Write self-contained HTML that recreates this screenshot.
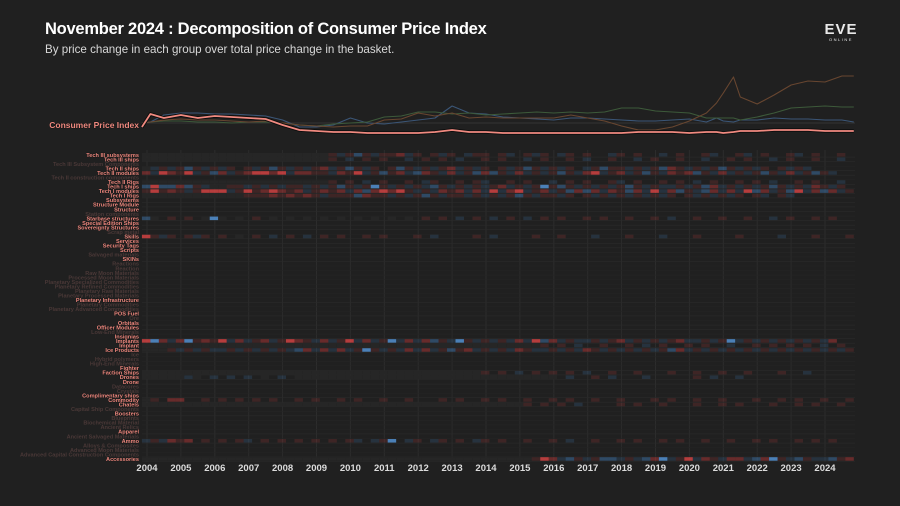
<!DOCTYPE html>
<html><head><meta charset="utf-8">
<style>
html,body{margin:0;padding:0;background:#202020;}
body{width:900px;height:506px;overflow:hidden;position:relative;font-family:"Liberation Sans",sans-serif;}
#title{position:absolute;left:45px;top:20px;color:#fff;font-weight:bold;font-size:16.5px;letter-spacing:-0.25px;}
#subtitle{position:absolute;left:45px;top:43px;color:#d8d8d8;font-size:11.6px;}
#logo{position:absolute;left:818px;top:22px;width:46px;text-align:center;color:#e8e8e8;}
#logo .eve{font-weight:bold;font-size:15px;letter-spacing:1px;line-height:15px;}
#logo .onl{font-size:4px;letter-spacing:1.5px;line-height:6px;}
svg{position:absolute;left:0;top:0;}
</style></head>
<body>
<div id="title">November 2024 : Decomposition of Consumer Price Index</div>
<div id="subtitle">By price change in each group over total price change in the basket.</div>
<div id="logo"><div class="eve">EVE</div><div class="onl">ONLINE</div></div>
<svg id="chart" width="900" height="506"></svg>
<script>
// ---- line series data (deviation units) ----
const lineDates = [2003.85,2004.1,2004.5,2005,2005.5,2006,2006.5,2007,2007.5,2008,2008.5,2009,2009.5,2010,2010.5,2011,2011.5,2012,2012.5,2013,2013.5,2014,2014.5,2015,2015.5,2016,2016.5,2017,2017.5,2018,2018.5,2019,2019.5,2020,2020.5,2020.8,2021,2021.3,2021.5,2022,2022.5,2023,2023.5,2024,2024.5,2024.85];
const cpiValues = [-4,9,5,8,5,7,6,5,4,-2,-7,-8,-9,-9,-10,-10,-10,-10,-9,-7,-9,-9,-10,-10,-10,-10,-10,-10,-10,-10,-9,-9,-9,-10,-9,-9,-10,-9,-8,-8,-7,-7,-7,-8,-8,-8];
const blueValues = [0,1,8,10,10,9,9,8,7,3,-4,-4,-2,5,0,-1,1,3,5,17,10,9,6,5,4,3,5,5,4,3,2,2,3,4,1,5,2,1,3,3,5,4,4,3,3,1];
const greenValues = [0,1,2,2,1,1,0,1,1,0,-2,-3,-1,0,1,6,7,11,11,9,10,8,9,10,11,10,11,10,11,15,15,12,11,10,5,5,5,5,3,6,10,15,16,17,16,16];
const brownValues = [0,1,3,4,3,3,2,1,2,0,-2,-3,-4,-3,-3,3,4,10,7,10,5,6,5,5,5,5,8,5,2,-3,-7,-7,-4,2,10,20,30,46,26,19,28,38,42,41,47,47];
// ---- x axis ticks ----
const yearTicks = [2004,2005,2006,2007,2008,2009,2010,2011,2012,2013,2014,2015,2016,2017,2018,2019,2020,2021,2022,2023,2024];
// ---- heatmap categories ----
const categories = ["Tech III subsystems","Tech III ships","Tech III Subsystem Components","Tech II ships","Tech II modules","Tech II construction components","Tech II Rigs","Tech I ships","Tech I modules","Tech I Rigs","Subsystems","Structure Module","Structure","Station components","Starbase structures","Special Edition Ships","Sovereignty Structures","Scrap metal","Skills","Services","Security Tags","Scripts","Salvaged materials","SKINs","Reactions","Reaction","Raw Moon Materials","Processed Moon Materials","Planetary Specialized Commodities","Planetary Refined Commodities","Planetary Raw Materials","Planetary Processed Materials","Planetary Infrastructure","Planetary Commodities","Planetary Advanced Commodities","POS Fuel","Ore","Orbitals","Officer Modules","Low-End Minerals","Insignias","Implants","Implant","Ice Products","Ice","Hybrid polymers","High-End Minerals","Fighter","Faction Ships","Drones","Drone","Datacores","Crystals","Complimentary ships","Commodity","Chatels","Capital Ship Components","Boosters","Blueprints","Biochemical Material","Ancient Relics","Apparel","Ancient Salvaged Materials","Ammo","Alloys & Composites","Advanced Moon Materials","Advanced Capital Construction Components","Accessories"];
const activeFlags = [1,1,0,1,1,0,1,1,1,1,1,1,1,0,1,1,1,0,1,1,1,1,0,1,0,0,0,0,0,0,0,0,1,0,0,1,0,1,1,0,1,1,1,1,0,0,0,1,1,1,1,0,0,1,1,1,0,1,0,0,0,1,0,1,0,0,0,1];
// quarterly intensity codes from 2003Q4: '1','2','3' red, 'a','b','c' blue, '0' faint, '.' none
const heatRows = {
 0:"0000000000000000000000"+"1a1b1a112a1.1a1.a11.1a.1a1.a1.1..a1.1..a.1..1a..1a.1..1a.1..1",
 1:"0000000000000000000000"+"1.a.1.1..a.1.1.a..1.1..a.1..1.a..1..a.1..1..a..1.1..a.1..1..a..1",
 3:"0a1a1b1a1a1.1a1b1a1a12a1b1a1.1b1a1a12a1a1.1a1b1a1a1.a1b11a1a1b21a1a1b1a1a1.1a1a",
 4:"2a3213a1b2a123323a2211a213a1b12ab21a2a1b2b1a2a1a1b1a23a12a1b1a212b1a2a1a1b1a2a1b1a",
 6:"0000000000000000000000"+"1.1.a.1..1.a1..1.1a..1.1..a.1.1..1a.1..1.1.a.1..1.1.a..1.1..a",
 7:"b3bb2b1a0011a1a1a11a1a1b1a1c1a1a1ab1a1a1a12a1a1c1b1a1a1a1b1a1aa1a1b2a1a1a1b1a1a21a1",
 8:"13121a1333a13123212a1212a2b23231a1a212a2a3a23a12a1b2b2a21b2a3a2b1ab2a2a3b2a1b3a2b2a1",
 9:"000000000000"+"111212121a111b211a1a1b1a11a1a1a1b1a11a1.1a1a1a1a1a1.1a1a1a1.1a.1a",
 14:"b0.1.1.0c0.0.1.0.0.0.0.0.0.0.0.0.1.1.a.1.a.1.a.1.1..1.1..1..1.a..1..1..1..a.1..1.1",
 18:"31a1.1a1.1.0.1.a.1.a.1.1..1.1...1.a....1.a....1..1...a...1...a...1....1....a...1...1",
 41:"3c2a2c1213a2a12a1321a2a13a2a1ca2a2b1ac1a1a1a2a3b2a1aa1a12a1a1a12aa1a1ca1a1a1a1a1a2",
 42:"000000000000000000000000000000000000000000000001.1.a..1..1.a.1..1.1..a..1.1.1.1.a.1.",
 43:"0001a1a1aa1a1a1a1ab2a2a2a1c1a1a2a2a1b12a1a1a21aa1a1a21a1a1a1a1b2a1a1a1a1a1a1a1a1a1a1b",
 48:"00000000000000000000000000000000000000001.1.a.1.1.1.a..1..1...1..1..1..1...1..a",
 49:"00000a0.a.a.a.0.a.0000000000000000000000000000000.a..1.a...a.....1.a..a",
 54:"01.22..1.1.1.1.1..1.1..1.1..1..1...1.1..1.1..1..1.1..1..1...1.1..1..1...1..1.1..1..1",
 55:"0000000000000000000000000000000000000000000001.1.1.a....1.1..1...1..1.1...1..1.1..1",
 63:"a1a212.1.1.1a.1.1.1.1.1.1a.a1c.a1.a1.1.a1.1..1..1.a..1..1.1..1.1..1..1..1.1..1.1.1",
 67:"0000000000000000000000000000000000000000000000"+"132ab1a1bba1ab2ca13a21a22ab2c1ab1aab12a1a3"
};
const NS="http://www.w3.org/2000/svg";
const svg=document.getElementById('chart');
function mk(tag,attrs,parent){const e=document.createElementNS(NS,tag);for(const k in attrs)e.setAttribute(k,attrs[k]);(parent||svg).appendChild(e);return e;}
// axis functions
const X0=142,X1=855;
function xScale(yr){return 147+(yr-2004)*33.9;}
function yLine(v){return 123-v;}
const rowTop=152.5, rowH=4.54;
function yRow(i){return rowTop+i*rowH;}
const Q=0.25;
// year gridlines
yearTicks.forEach(y=>{
 const l=mk('line',{x1:xScale(y),x2:xScale(y),y1:150,y2:462,stroke:'#2c2c2c','stroke-width':1});
 
 
 const t=mk('text',{x:xScale(y),y:471,'text-anchor':'middle',fill:'#dcdcdc','font-size':'9.5','font-weight':'bold','font-family':'Liberation Sans, sans-serif'});
 t.textContent=y;
 
 
});
// row gridlines and labels
categories.forEach((c,i)=>{
 const yc=yRow(i)+rowH/2;
 const g=mk('line',{x1:X0,x2:X1,y1:yRow(i)+rowH,y2:yRow(i)+rowH,stroke:activeFlags[i]?'#2a2a2a':'#252525','stroke-width':0.6});
 
 
 const t=mk('text',{x:139,y:yc+2,'text-anchor':'end',fill:activeFlags[i]?'#f08a80':'#4a3837','font-size':'5.6','font-weight':'bold','font-family':'Liberation Sans, sans-serif',stroke:activeFlags[i]?'#111':'none','stroke-width':activeFlags[i]?0.6:0,'paint-order':'stroke'});
 t.textContent=c;
 
 
});
// heatmap cells
const colorMap={'0':['#262626',1],'1':['#d84040',0.17],'2':['#e04040',0.38],'3':['#f04848',0.72],'a':['#4a90d8',0.17],'b':['#4a90d8',0.38],'c':['#5aa0ea',0.75]};
Object.keys(heatRows).forEach(k=>{
 const i=+k;const s=heatRows[k];
 for(let q=0;q<84&&q<s.length;q++){
  const ch=s[q];if(ch==='.')continue;
  const cm=colorMap[ch];if(!cm)continue;
  const yr=2003.85+q*Q;
  const x=xScale(yr);
  const r=mk('rect',{x:x,y:yRow(i)+0.5,width:Math.min(xScale(yr+Q),X1)-x,height:rowH-1,fill:cm[0],'fill-opacity':cm[1]});
  
  
 }
});
// line chart baseline
const bl=mk('line',{x1:X0,x2:X1,y1:yLine(0),y2:yLine(0),stroke:'#343434','stroke-width':1});


function pathFor(vals){return vals.map((v,i)=>(i?'L':'M')+xScale(lineDates[i]).toFixed(1)+','+yLine(v).toFixed(1)).join(' ');}
[[blueValues,'#3b5677','blue-series-line'],[greenValues,'#3d5a3a','green-series-line'],[brownValues,'#684630','brown-series-line']].forEach(s=>{
 const p=mk('path',{d:pathFor(s[0]),fill:'none',stroke:s[1],'stroke-width':1.1,'stroke-linejoin':'round'});
 
 
});
const sh=mk('path',{d:pathFor(cpiValues),fill:'none',stroke:'#0c0c0c','stroke-width':3.6,'stroke-linejoin':'round'});


const cp=mk('path',{d:pathFor(cpiValues),fill:'none',stroke:'#f08a80','stroke-width':1.8,'stroke-linejoin':'round'});


const cl=mk('text',{x:139,y:128,'text-anchor':'end',fill:'#f08a80','font-size':'8.5','font-weight':'bold','font-family':'Liberation Sans, sans-serif',stroke:'#111','stroke-width':0.8,'paint-order':'stroke'});
cl.textContent='Consumer Price Index';


</script>
</body></html>
